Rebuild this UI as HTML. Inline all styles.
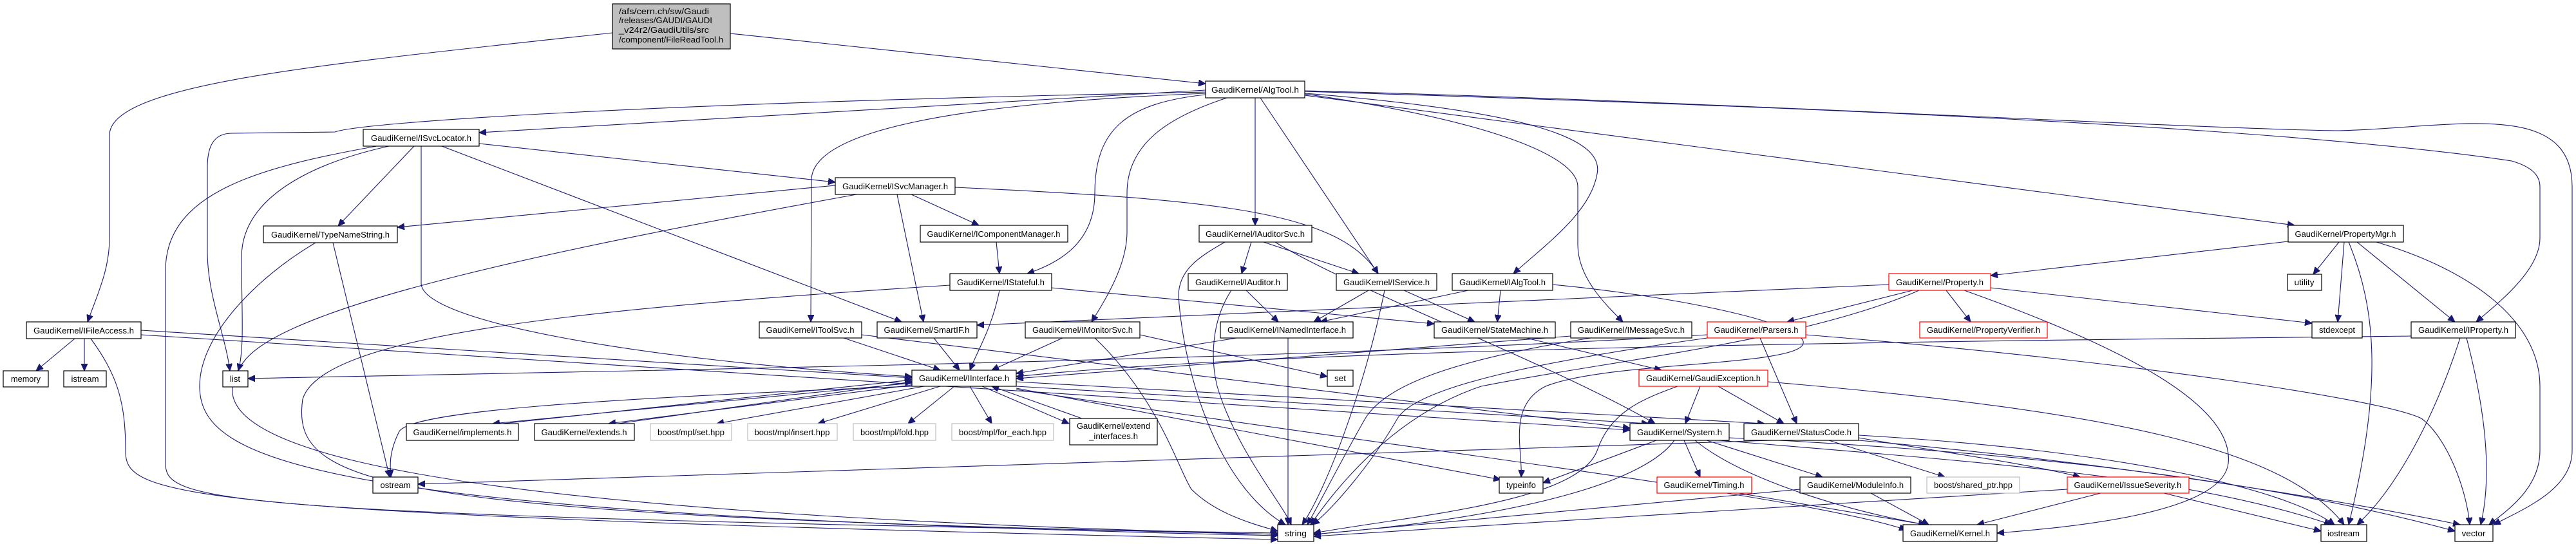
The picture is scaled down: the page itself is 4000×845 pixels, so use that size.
<!DOCTYPE html>
<html><head><meta charset="utf-8"><style>
html,body{margin:0;padding:0;background:#fff;}
svg{display:block;}
text{font-family:"Liberation Sans",sans-serif;font-size:13px;fill:#000;}
.e{fill:none;stroke:#191970;stroke-width:1.1;marker-end:url(#a);}
.n{fill:#fff;stroke:#000;stroke-width:1.2;}
.r{fill:#fff;stroke:#ff0000;stroke-width:1.2;}
.g{fill:#fff;stroke:#bfbfbf;stroke-width:1.2;}
</style></head><body>
<svg width="4000" height="845" viewBox="0 0 4000 845" xmlns="http://www.w3.org/2000/svg">
<defs><marker id="a" markerUnits="userSpaceOnUse" markerWidth="12" markerHeight="10" refX="11" refY="5" orient="auto"><path d="M0,0 L11,5 L0,10 z" fill="#191970" stroke="#191970"/></marker></defs>
<g>
<path class="e" d="M1134,52 L1872,130"/>
<path class="e" d="M951,51 C500,100 170,130 170,210 L170,370 C170,420 150,460 136,500"/>
<path class="e" d="M1872,140 L744,206"/>
<path class="e" d="M1872,143 C1000,160 560,190 520,205 L360,207 C330,207 322,230 322,260 L322,390 C322,460 350,520 357,576"/>
<path class="e" d="M1872,145 C1500,160 1260,200 1260,280 L1259,500"/>
<path class="e" d="M1872,147 C1750,160 1700,200 1700,300 C1700,380 1640,410 1595,425"/>
<path class="e" d="M1905,152 C1820,180 1750,220 1750,300 L1750,360 C1750,410 1720,460 1695,500"/>
<path class="e" d="M1949,152 L1949,350"/>
<path class="e" d="M1957,152 L2140,425"/>
<path class="e" d="M2026,145 C2400,175 2490,220 2480,270 C2470,330 2400,380 2350,425"/>
<path class="e" d="M2026,146 C2300,185 2450,240 2450,290 L2450,380 C2450,430 2490,470 2520,500"/>
<path class="e" d="M2026,148 L3563,350"/>
<path class="e" d="M2026,142 C2600,160 3500,190 3900,250 C3935,260 3944,275 3944,290 L3944,370 C3944,420 3880,470 3845,500"/>
<path class="e" d="M2026,141 C2600,155 3400,200 3630,203 C3800,200 3994,150 3994,290 L3994,700 C3994,760 3920,790 3872,815"/>
<path class="e" d="M604,227 C500,250 375,300 375,400 C375,480 380,540 370,576"/>
<path class="e" d="M585,227 C400,260 257,300 257,420 L257,720 C257,780 330,800 1984,828"/>
<path class="e" d="M643,227 L525,351"/>
<path class="e" d="M744,223 L1297,283"/>
<path class="e" d="M686,227 L1400,500"/>
<path class="e" d="M654,227 L654,440 C654,500 1000,560 1416,585"/>
<path class="e" d="M1297,288 L617,353"/>
<path class="e" d="M1330,302 C900,380 450,470 380,560 C300,660 400,790 1984,830"/>
<path class="e" d="M1393,302 L1434,500"/>
<path class="e" d="M1415,302 L1520,350"/>
<path class="e" d="M1483,291 C1900,310 2080,330 2140,425"/>
<path class="e" d="M490,377 C400,430 310,520 310,600 C310,720 500,800 1984,832"/>
<path class="e" d="M517,377 L605,741"/>
<path class="e" d="M116,526 L56,576"/>
<path class="e" d="M131,526 L131,576"/>
<path class="e" d="M141,526 C180,580 195,620 195,700 C195,770 250,800 1984,838"/>
<path class="e" d="M219,513 L1416,587"/>
<path class="e" d="M219,520 L2531,668"/>
<path class="e" d="M1547,376 L1552,425"/>
<path class="e" d="M1552,451 C1540,510 1520,540 1506,575"/>
<path class="e" d="M1633,447 L2227,503"/>
<path class="e" d="M1475,443 C900,480 500,520 470,620 C450,760 600,800 1984,830"/>
<path class="e" d="M1943,376 L1928,425"/>
<path class="e" d="M1962,376 L2110,425"/>
<path class="e" d="M1902,376 C1860,400 1830,420 1830,460 C1840,600 1900,760 1996,815"/>
<path class="e" d="M1980,376 C2100,450 2400,560 2570,658"/>
<path class="e" d="M1935,451 L1985,500"/>
<path class="e" d="M1912,451 C1880,500 1880,560 1890,600 C1920,700 1990,780 2005,815"/>
<path class="e" d="M2125,451 L2040,500"/>
<path class="e" d="M2180,451 L2290,500"/>
<path class="e" d="M2150,451 C2120,600 2060,760 2022,815"/>
<path class="e" d="M2280,451 L2050,500"/>
<path class="e" d="M2330,451 L2325,500"/>
<path class="e" d="M2411,442 C2600,460 2790,500 2800,530 C2810,570 2500,560 2400,600 C2340,630 2365,700 2362,741"/>
<path class="e" d="M2933,442 L1517,505"/>
<path class="e" d="M2970,451 L2775,500"/>
<path class="e" d="M2980,451 C2800,530 2500,560 2300,600 C2150,650 2060,780 2035,815"/>
<path class="e" d="M3022,451 L3060,500"/>
<path class="e" d="M3091,447 L3590,502"/>
<path class="e" d="M3050,451 C3300,540 3470,630 3460,720 C3450,800 3200,820 3101,828"/>
<path class="e" d="M3553,375 L3091,428"/>
<path class="e" d="M3632,376 L3592,426"/>
<path class="e" d="M3640,376 L3630,500"/>
<path class="e" d="M3647,376 C3690,480 3700,600 3647,815"/>
<path class="e" d="M3660,376 L3812,500"/>
<path class="e" d="M3690,376 C3840,420 3944,500 3944,600 L3944,700 C3944,760 3890,795 3865,815"/>
<path class="e" d="M3744,522 C3000,530 2000,540 1578,585"/>
<path class="e" d="M3820,525 C3780,650 3720,760 3660,815"/>
<path class="e" d="M3830,525 C3860,640 3870,740 3852,815"/>
<path class="e" d="M2651,525 C2400,560 2200,600 2170,650 C2130,720 2070,790 2038,815"/>
<path class="e" d="M2733,525 L2790,658"/>
<path class="e" d="M2804,520 C3300,560 3700,620 3760,650 C3800,680 3830,760 3835,815"/>
<path class="e" d="M2651,520 C2000,560 1000,575 385,588"/>
<path class="e" d="M2439,522 L1578,588"/>
<path class="e" d="M2470,525 C2250,560 2150,600 2120,650 C2080,720 2050,780 2030,815"/>
<path class="e" d="M2370,525 L2580,575"/>
<path class="e" d="M1920,525 L1578,580"/>
<path class="e" d="M2000,525 L2000,815"/>
<path class="e" d="M1450,525 L1490,575"/>
<path class="e" d="M1310,525 L1460,575"/>
<path class="e" d="M1338,520 L2531,665"/>
<path class="e" d="M1650,525 L1540,575"/>
<path class="e" d="M1770,520 L2061,585"/>
<path class="e" d="M1700,525 C1800,620 1830,730 1850,760 C1890,800 1950,815 1984,825"/>
<path class="e" d="M1416,595 L765,658"/>
<path class="e" d="M780,658 L1416,590"/>
<path class="e" d="M1416,598 L945,658"/>
<path class="e" d="M960,658 L1416,593"/>
<path class="e" d="M1435,600 L1113,658"/>
<path class="e" d="M1460,600 L1270,658"/>
<path class="e" d="M1482,600 L1410,658"/>
<path class="e" d="M1506,600 L1540,658"/>
<path class="e" d="M1525,600 L1660,658"/>
<path class="e" d="M1680,650 L1540,600"/>
<path class="e" d="M1416,600 C900,620 640,640 620,670 C605,700 605,720 607,741"/>
<path class="e" d="M1578,600 L2560,658"/>
<path class="e" d="M1578,593 L2740,658"/>
<path class="e" d="M1578,603 L2330,745"/>
<path class="e" d="M1578,605 C2200,700 2800,770 2960,823"/>
<path class="e" d="M2640,600 L2617,658"/>
<path class="e" d="M2668,600 L2770,658"/>
<path class="e" d="M2605,600 C2550,620 2500,640 2480,700 C2450,780 2200,800 2040,828"/>
<path class="e" d="M2745,593 C3300,640 3550,700 3640,815"/>
<path class="e" d="M2572,684 L2396,750"/>
<path class="e" d="M2600,684 C2560,740 2400,800 2040,830"/>
<path class="e" d="M2615,684 L2640,741"/>
<path class="e" d="M2650,684 L2830,741"/>
<path class="e" d="M2632,684 C2700,740 2850,790 2990,815"/>
<path class="e" d="M2685,680 C3100,700 3500,740 3812,825"/>
<path class="e" d="M2670,684 C3100,720 3400,740 3620,815"/>
<path class="e" d="M2750,684 L649,752"/>
<path class="e" d="M2840,684 L3020,741"/>
<path class="e" d="M2886,680 C3000,700 3150,720 3230,741"/>
<path class="e" d="M2886,676 C3300,700 3550,760 3625,815"/>
<path class="e" d="M2886,684 C3300,720 3650,780 3820,815"/>
<path class="e" d="M2700,766 L2990,815"/>
<path class="e" d="M2905,766 L2995,815"/>
<path class="e" d="M2795,760 L2040,830"/>
<path class="e" d="M3262,766 L3070,815"/>
<path class="e" d="M3360,766 L3604,825"/>
<path class="e" d="M3210,760 L2040,833"/>
</g>
<g>
<rect x="951" y="6" width="183" height="70" fill="#bfbfbf" stroke="#000" stroke-width="1.2"/>
<text x="961" y="22" textLength="140" lengthAdjust="spacingAndGlyphs">/afs/cern.ch/sw/Gaudi</text>
<text x="961" y="36" textLength="145" lengthAdjust="spacingAndGlyphs">/releases/GAUDI/GAUDI</text>
<text x="961" y="51" textLength="140" lengthAdjust="spacingAndGlyphs">_v24r2/GaudiUtils/src</text>
<text x="961" y="66" textLength="162" lengthAdjust="spacingAndGlyphs">/component/FileReadTool.h</text>
</g>
<g text-anchor="middle">
<rect class="n" x="1872" y="126" width="154" height="26"/><text x="1949" y="144" textLength="136" lengthAdjust="spacingAndGlyphs">GaudiKernel/AlgTool.h</text>
<rect class="n" x="564" y="201" width="180" height="26"/><text x="654" y="219" textLength="156" lengthAdjust="spacingAndGlyphs">GaudiKernel/ISvcLocator.h</text>
<rect class="n" x="409" y="351" width="208" height="26"/><text x="513" y="369" textLength="184" lengthAdjust="spacingAndGlyphs">GaudiKernel/TypeNameString.h</text>
<rect class="n" x="41" y="500" width="178" height="26"/><text x="130" y="518" textLength="156" lengthAdjust="spacingAndGlyphs">GaudiKernel/IFileAccess.h</text>
<rect class="n" x="5" y="576" width="70" height="25"/><text x="40" y="593" textLength="46" lengthAdjust="spacingAndGlyphs">memory</text>
<rect class="n" x="99" y="576" width="66" height="25"/><text x="132" y="593" textLength="43" lengthAdjust="spacingAndGlyphs">istream</text>
<rect class="n" x="346" y="576" width="39" height="25"/><text x="365" y="593" textLength="16" lengthAdjust="spacingAndGlyphs">list</text>
<rect class="n" x="631" y="658" width="174" height="26"/><text x="718" y="676" textLength="153" lengthAdjust="spacingAndGlyphs">GaudiKernel/implements.h</text>
<rect class="n" x="830" y="658" width="155" height="26"/><text x="907" y="676" textLength="133" lengthAdjust="spacingAndGlyphs">GaudiKernel/extends.h</text>
<rect class="n" x="579" y="741" width="70" height="25"/><text x="614" y="758" textLength="47" lengthAdjust="spacingAndGlyphs">ostream</text>
<rect class="n" x="1297" y="276" width="186" height="26"/><text x="1390" y="294" textLength="164" lengthAdjust="spacingAndGlyphs">GaudiKernel/ISvcManager.h</text>
<rect class="n" x="1429" y="350" width="229" height="26"/><text x="1543" y="368" textLength="207" lengthAdjust="spacingAndGlyphs">GaudiKernel/IComponentManager.h</text>
<rect class="n" x="1862" y="350" width="175" height="26"/><text x="1949" y="368" textLength="154" lengthAdjust="spacingAndGlyphs">GaudiKernel/IAuditorSvc.h</text>
<rect class="n" x="1475" y="425" width="158" height="26"/><text x="1554" y="443" textLength="136" lengthAdjust="spacingAndGlyphs">GaudiKernel/IStateful.h</text>
<rect class="n" x="1845" y="425" width="154" height="26"/><text x="1922" y="443" textLength="132" lengthAdjust="spacingAndGlyphs">GaudiKernel/IAuditor.h</text>
<rect class="n" x="1179" y="500" width="159" height="25"/><text x="1258" y="517" textLength="137" lengthAdjust="spacingAndGlyphs">GaudiKernel/IToolSvc.h</text>
<rect class="n" x="1362" y="500" width="155" height="25"/><text x="1439" y="517" textLength="133" lengthAdjust="spacingAndGlyphs">GaudiKernel/SmartIF.h</text>
<rect class="n" x="1592" y="500" width="178" height="25"/><text x="1681" y="517" textLength="156" lengthAdjust="spacingAndGlyphs">GaudiKernel/IMonitorSvc.h</text>
<rect class="n" x="1895" y="500" width="206" height="25"/><text x="1998" y="517" textLength="184" lengthAdjust="spacingAndGlyphs">GaudiKernel/INamedInterface.h</text>
<rect class="n" x="1416" y="575" width="162" height="25"/><text x="1497" y="592" textLength="140" lengthAdjust="spacingAndGlyphs">GaudiKernel/IInterface.h</text>
<rect class="g" x="1010" y="658" width="126" height="26"/><text x="1073" y="676" textLength="104" lengthAdjust="spacingAndGlyphs">boost/mpl/set.hpp</text>
<rect class="g" x="1161" y="658" width="139" height="26"/><text x="1230" y="676" textLength="117" lengthAdjust="spacingAndGlyphs">boost/mpl/insert.hpp</text>
<rect class="g" x="1325" y="658" width="128" height="26"/><text x="1389" y="676" textLength="106" lengthAdjust="spacingAndGlyphs">boost/mpl/fold.hpp</text>
<rect class="g" x="1478" y="658" width="158" height="26"/><text x="1557" y="676" textLength="136" lengthAdjust="spacingAndGlyphs">boost/mpl/for_each.hpp</text>
<rect class="n" x="1661" y="650" width="136" height="41"/><text x="1729" y="666" textLength="114" lengthAdjust="spacingAndGlyphs">GaudiKernel/extend</text><text x="1729" y="682" textLength="76" lengthAdjust="spacingAndGlyphs">_interfaces.h</text>
<rect class="n" x="1984" y="815" width="56" height="26"/><text x="2012" y="833" textLength="34" lengthAdjust="spacingAndGlyphs">string</text>
<rect class="n" x="2075" y="425" width="156" height="26"/><text x="2153" y="443" textLength="134" lengthAdjust="spacingAndGlyphs">GaudiKernel/IService.h</text>
<rect class="n" x="2255" y="425" width="156" height="26"/><text x="2333" y="443" textLength="134" lengthAdjust="spacingAndGlyphs">GaudiKernel/IAlgTool.h</text>
<rect class="r" x="2933" y="425" width="158" height="26"/><text x="3012" y="443" textLength="136" lengthAdjust="spacingAndGlyphs">GaudiKernel/Property.h</text>
<rect class="n" x="2227" y="500" width="188" height="25"/><text x="2321" y="517" textLength="166" lengthAdjust="spacingAndGlyphs">GaudiKernel/StateMachine.h</text>
<rect class="n" x="2439" y="500" width="188" height="25"/><text x="2533" y="517" textLength="166" lengthAdjust="spacingAndGlyphs">GaudiKernel/IMessageSvc.h</text>
<rect class="r" x="2651" y="500" width="153" height="25"/><text x="2727" y="517" textLength="131" lengthAdjust="spacingAndGlyphs">GaudiKernel/Parsers.h</text>
<rect class="r" x="2981" y="500" width="198" height="25"/><text x="3080" y="517" textLength="176" lengthAdjust="spacingAndGlyphs">GaudiKernel/PropertyVerifier.h</text>
<rect class="n" x="2061" y="575" width="40" height="25"/><text x="2081" y="592" textLength="18" lengthAdjust="spacingAndGlyphs">set</text>
<rect class="r" x="2545" y="575" width="200" height="25"/><text x="2645" y="592" textLength="178" lengthAdjust="spacingAndGlyphs">GaudiKernel/GaudiException.h</text>
<rect class="n" x="2531" y="658" width="154" height="26"/><text x="2608" y="676" textLength="132" lengthAdjust="spacingAndGlyphs">GaudiKernel/System.h</text>
<rect class="n" x="2708" y="658" width="178" height="26"/><text x="2797" y="676" textLength="156" lengthAdjust="spacingAndGlyphs">GaudiKernel/StatusCode.h</text>
<rect class="n" x="2328" y="741" width="68" height="25"/><text x="2362" y="758" textLength="46" lengthAdjust="spacingAndGlyphs">typeinfo</text>
<rect class="r" x="2573" y="741" width="147" height="25"/><text x="2646" y="758" textLength="125" lengthAdjust="spacingAndGlyphs">GaudiKernel/Timing.h</text>
<rect class="n" x="2795" y="741" width="172" height="25"/><text x="2881" y="758" textLength="150" lengthAdjust="spacingAndGlyphs">GaudiKernel/ModuleInfo.h</text>
<rect class="g" x="2992" y="741" width="144" height="25"/><text x="3064" y="758" textLength="122" lengthAdjust="spacingAndGlyphs">boost/shared_ptr.hpp</text>
<rect class="n" x="2955" y="815" width="146" height="26"/><text x="3028" y="833" textLength="124" lengthAdjust="spacingAndGlyphs">GaudiKernel/Kernel.h</text>
<rect class="n" x="3553" y="350" width="179" height="26"/><text x="3642" y="368" textLength="157" lengthAdjust="spacingAndGlyphs">GaudiKernel/PropertyMgr.h</text>
<rect class="n" x="3552" y="426" width="53" height="25"/><text x="3578" y="443" textLength="31" lengthAdjust="spacingAndGlyphs">utility</text>
<rect class="n" x="3590" y="500" width="78" height="25"/><text x="3629" y="517" textLength="56" lengthAdjust="spacingAndGlyphs">stdexcept</text>
<rect class="n" x="3744" y="500" width="162" height="25"/><text x="3825" y="517" textLength="140" lengthAdjust="spacingAndGlyphs">GaudiKernel/IProperty.h</text>
<rect class="r" x="3210" y="741" width="189" height="25"/><text x="3304" y="758" textLength="167" lengthAdjust="spacingAndGlyphs">GaudiKernel/IssueSeverity.h</text>
<rect class="n" x="3604" y="815" width="71" height="26"/><text x="3639" y="833" textLength="50" lengthAdjust="spacingAndGlyphs">iostream</text>
<rect class="n" x="3812" y="815" width="59" height="26"/><text x="3841" y="833" textLength="37" lengthAdjust="spacingAndGlyphs">vector</text>
</g>
</svg>
</body></html>
